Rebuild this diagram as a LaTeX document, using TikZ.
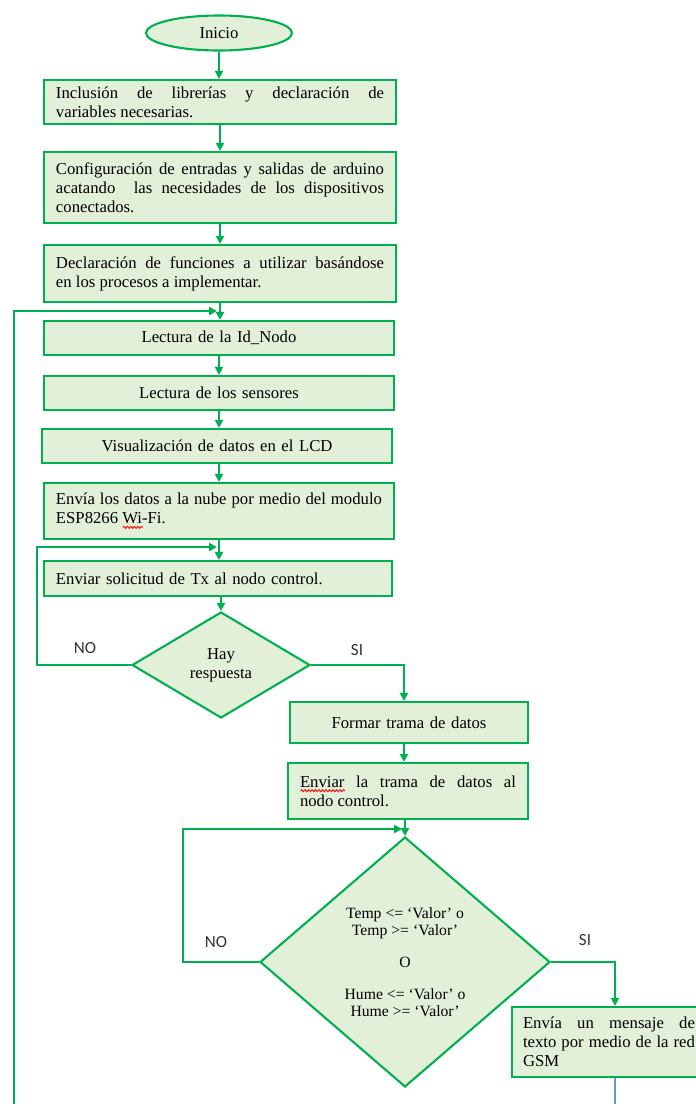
\documentclass[tikz,border=0pt]{standalone}
\usepackage{fontspec}
\setmainfont{Liberation Serif}
\newfontfamily\lblfont{Carlito}
\usetikzlibrary{arrows.meta,shapes.geometric,decorations.pathmorphing}

\definecolor{flowline}{RGB}{0,176,80}
\definecolor{flowfill}{RGB}{226,239,217}
\definecolor{tailblue}{RGB}{100,150,215}

% red wavy spell-check underline under a word
\newsavebox\spellbox
\newcommand\spellmark[1]{\sbox\spellbox{#1}\rlap{\tikz[baseline=0pt]\draw[draw=red,fill=none,line width=0.9pt,decorate,decoration={snake,amplitude=1pt,segment length=3.5pt}] (0pt,-3.5pt) -- (\wd\spellbox,-3.5pt);}\usebox\spellbox}

\tikzset{
  flow/.style={draw=flowline,line width=2.1pt},
  arr/.style={flow,-{Triangle[length=8pt,width=8pt]}},
  stepbox/.style={draw=flowline,fill=flowfill,line width=2.1pt,rectangle,
    inner xsep=12pt,inner ysep=0pt,font=\fontsize{16.7}{19}\selectfont},
  jbox/.style={stepbox,align=justify},
  cbox/.style={stepbox,align=center},
  decision/.style={draw=flowline,fill=flowfill,line width=2.1pt,diamond,
    inner sep=0pt,align=center,font=\fontsize{15.7}{17}\selectfont},
  lbl/.style={font=\lblfont\fontsize{17}{19}\selectfont,inner sep=0pt,text=black!80},
}

\begin{document}
\begin{tikzpicture}[x=1pt,y=-1pt]
\useasboundingbox (0,0) rectangle (696,1104);
\fill[white] (0,0) rectangle (696,1104);
\clip (0,0) rectangle (696,1104);

% start
\node[draw=flowline,fill=flowfill,line width=2.1pt,ellipse,minimum width=146pt,
  minimum height=35pt,inner sep=0pt,font=\fontsize{16.7}{19}\selectfont] (ini) at (219,33) {Inicio};

% set-up blocks
\node[jbox,text width=328pt,minimum height=44pt] (b1) at (220,102)
  {Inclusión de librerías y declaración de\linebreak variables necesarias.};
\node[jbox,text width=328pt,minimum height=71pt] (b2) at (220,187.5)
  {Configuración de entradas y salidas de arduino\linebreak acatando\ \ las necesidades de los dispositivos\linebreak conectados.};
\node[jbox,text width=328pt,minimum height=57pt] (b3) at (220,273.5)
  {Declaración de funciones a utilizar basándose\linebreak en los procesos a implementar.};

% main loop
\node[cbox,text width=326pt,minimum height=34pt] (b4) at (219,338) {Lectura de la Id\_Nodo};
\node[cbox,text width=326pt,minimum height=34pt] (b5) at (219,393) {Lectura de los sensores};
\node[cbox,text width=326pt,minimum height=34pt] (b6) at (217,446) {Visualización de datos en el LCD};
\node[jbox,text width=326pt,minimum height=56pt] (b7) at (219,511)
  {Envía los datos a la nube por medio del modulo\linebreak ESP8266 \spellmark{Wi}-Fi.};
\node[stepbox,align=left,text width=324pt,minimum height=35pt] (b8) at (218,578.5)
  {Enviar solicitud de Tx al nodo control.};

\node[decision,font=\fontsize{16.7}{19}\selectfont,minimum width=178pt,minimum height=106pt] (d1) at (221,665) {Hay\\respuesta};

\node[cbox,text width=214pt,minimum height=41pt] (f1) at (409,722.5) {Formar trama de datos};
\node[jbox,text width=216pt,minimum height=56pt] (f2) at (408,791)
  {\spellmark{Enviar} la trama de datos al\linebreak nodo control.};

\node[decision,minimum width=290pt,minimum height=250pt] (d2) at (405,962)
  {Temp <= ‘Valor’ o\\Temp >= ‘Valor’\\[15pt]O\\[15pt]Hume <= ‘Valor’ o\\Hume >= ‘Valor’};

\node[jbox,inner xsep=11pt,text width=172pt,minimum height=70pt] (g1) at (609,1042)
  {Envía un mensaje de\linebreak texto por medio de la red\linebreak GSM};

% branch labels
\node[lbl] (no1) at (85,648) {NO};
\node[lbl] (si1) at (357,650) {SI};
\node[lbl] (no2) at (216,942) {NO};
\node[lbl] (si2) at (585,940) {SI};

% loop return points
\coordinate (l1s) at (14,1110);
\coordinate (l1e) at (217,311);
\coordinate (l2e) at (217,547);
\coordinate (l3e) at (402,829);
\coordinate (tail) at (615,1110);

% straight flow
\draw[arr] (ini.south) -- (ini.south |- b1.north);
\draw[arr] (b1.south) -- (b1.south |- b2.north);
\draw[arr] (b2.south) -- (b2.south |- b3.north);
\draw[arr] (b3.south) -- (b3.south |- b4.north);
\draw[arr] (b4.south) -- (b4.south |- b5.north);
\draw[arr] (b5.south) -- (b5.south |- b6.north);
\draw[arr] (b6.south -| b7.north) -- (b7.north);
\draw[arr] (b7.south) -- (b7.south |- b8.north);
\draw[arr] (b8.south -| d1.north) -- (d1.north);
\draw[arr] (d1.east) -| ([xshift=-5pt]f1.north);
\draw[arr] ([xshift=-5pt]f1.south) -- ([xshift=-5pt]f1.south |- f2.north);
\draw[arr] (f2.south -| d2.north) -- (d2.north);
\draw[arr] (d2.east) -| ([xshift=6pt]g1.north);
\draw[draw=tailblue,line width=1.5pt] ([xshift=6pt]g1.south) -- (tail);

% return loops
\draw[arr] (l1s) |- (l1e);
\draw[arr] (d1.west) -- (37,665) |- (l2e);
\draw[arr] (d2.west) -- (183,962) |- (l3e);
\end{tikzpicture}
\end{document}
